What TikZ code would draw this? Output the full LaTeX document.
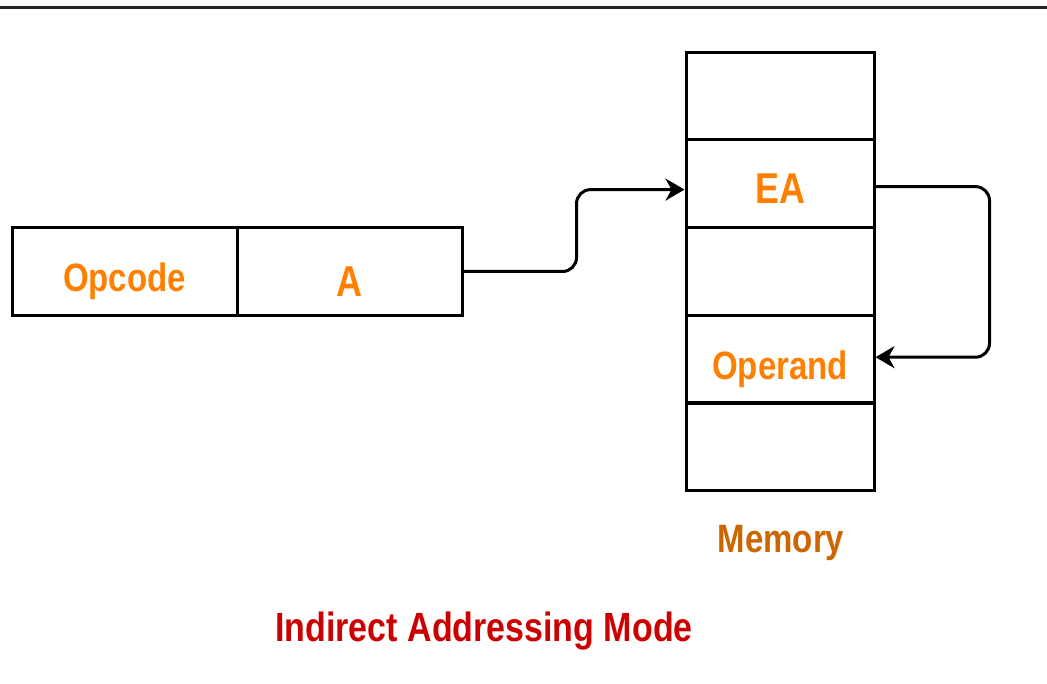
\documentclass[tikz,border=0pt]{standalone}
\usepackage{fontspec}
\setmainfont{Liberation Sans}
\usetikzlibrary{arrows.meta}

\definecolor{txtorange}{HTML}{FF8000}
\definecolor{memcol}{HTML}{CC6600}
\definecolor{titlered}{HTML}{CC0000}

\newcommand{\tall}[1]{\scalebox{1}[1.2]{#1}}

\tikzset{
  cell/.style={draw, line width=3pt, minimum width=225pt, minimum height=87.5pt,
    inner sep=0pt, text depth=0pt, text height=40pt, text=txtorange,
    font=\bfseries\fontsize{33}{33}\selectfont},
  memcell/.style={cell, minimum width=188pt},
  link/.style={line width=3pt, rounded corners=14pt,
    -{Stealth[length=19pt, width=22pt, inset=6pt]}}
}

\begin{document}
\begin{tikzpicture}[x=1pt, y=-1pt]
\useasboundingbox (0,0) rectangle (1047,684);
\draw[line width=3pt, black!85] (0,8) -- (1047,8);

% instruction
\node[cell] (opc) at (124.5,271.5) {\tall{Opcode}};
\node[cell, text height=50pt] (addr) at (349.5,271.5) {\fontsize{36}{36}\selectfont\tall{A}};

% memory
\foreach \i/\t in {1/{},2/{\fontsize{36}{36}\selectfont\tall{EA}},3/{},4/{\tall{Operand}},5/{}}
{
\node[memcell] (m\i) at (780,8+87.8*\i) {\t};
}

\node[text=memcol, font=\bfseries\fontsize{33}{33}\selectfont] (mem) at (781,543) {\tall{Memory}};
\node[text=titlered, font=\bfseries\fontsize{34}{34}\selectfont] (title) at (484,631) {\tall{Indirect Addressing Mode}};

 \draw[link] (addr.east) -- ++(113,0) |- ([yshift=-6pt]m2.west);
 \draw[link] ([yshift=-3pt]m2.east) -- ++(114,0) |- ([yshift=2pt]m4.east);
\end{tikzpicture}
\end{document}
